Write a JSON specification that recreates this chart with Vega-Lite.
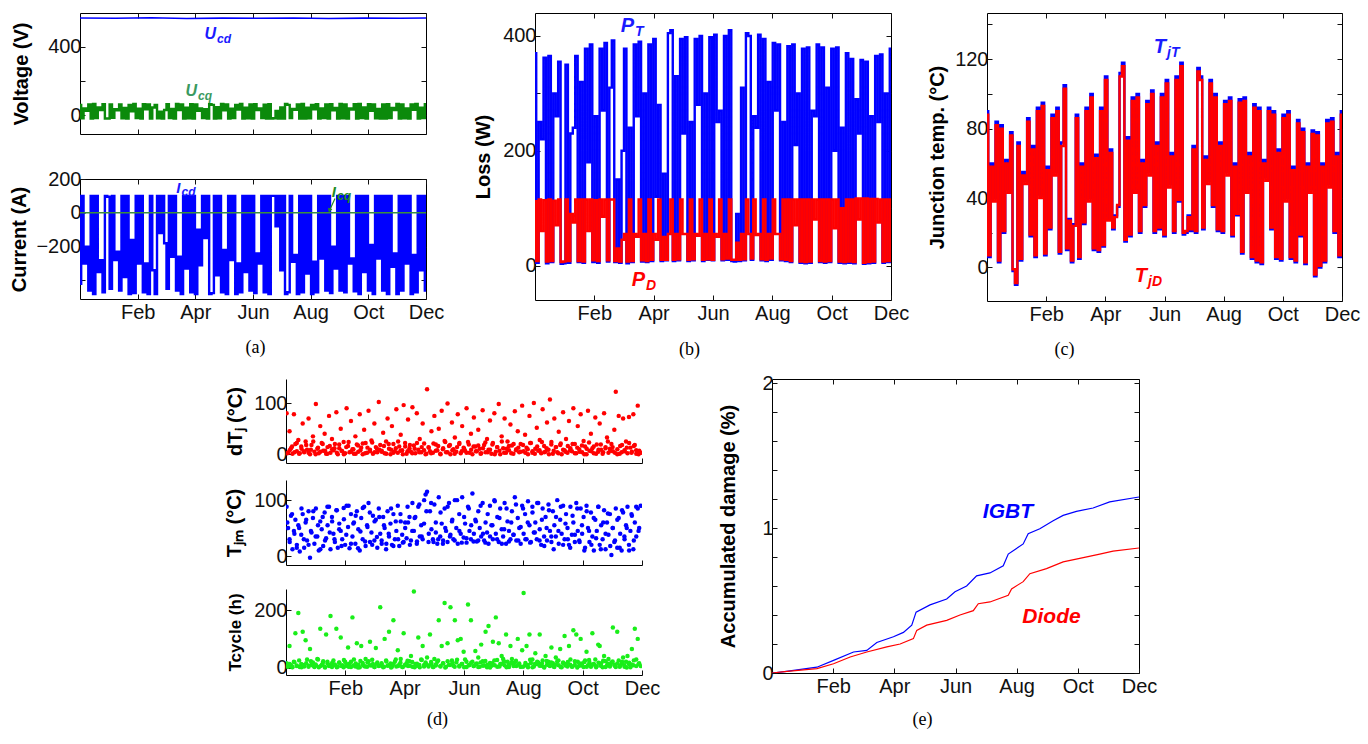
{
"$schema": "https://vega.github.io/schema/vega-lite/v6.json",
"padding": {"left": 8, "top": 12, "right": 5, "bottom": 5},
"background": "white",
"config": {
 "font": "Liberation Sans",
 "view": {"stroke": "#000", "strokeWidth": 1},
 "axis": {"grid": false, "domain": false, "labelFont": "Liberation Sans", "labelFontSize": 20, "labelColor": "#111", "labelPadding": 4, "labelFlush": false, "labelOverlap": false, "tickColor": "#111", "tickSize": -5, "tickWidth": 1, "titleFont": "Liberation Sans", "titleFontSize": 20, "titleFontWeight": "bold", "titleColor": "#000"},
 "axisY": {"titleBaseline": "middle", "titleAngle": 270},
 "axisX": {"labelPadding": 8, "titleFont": "Liberation Serif", "titleFontWeight": "normal", "titleFontSize": 18, "titleBaseline": "middle", "titleAlign": "center"}
},
"datasets": {
 "ts": [
{"h":0,"uq":60,"i":-420,"pt":370,"pd":112,"tt":90,"td":88},
{"h":60,"uq":-18,"i":100,"pt":5,"pd":8,"tt":6,"td":7},
{"h":120,"uq":40,"i":-300,"pt":250,"pd":115,"tt":60,"td":58},
{"h":180,"uq":25,"i":-200,"pt":220,"pd":60,"tt":40,"td":38},
{"h":240,"uq":62,"i":-460,"pt":362,"pd":114,"tt":84,"td":82},
{"h":300,"uq":-20,"i":100,"pt":4,"pd":7,"tt":3,"td":4},
{"h":360,"uq":65,"i":-480,"pt":365,"pd":115,"tt":82,"td":80},
{"h":420,"uq":-17,"i":100,"pt":6,"pd":8,"tt":20,"td":21},
{"h":480,"uq":45,"i":-350,"pt":300,"pd":113,"tt":62,"td":60},
{"h":540,"uq":30,"i":-280,"pt":260,"pd":70,"tt":45,"td":43},
{"h":600,"uq":64,"i":-470,"pt":355,"pd":115,"tt":78,"td":76},
{"h":660,"uq":-19,"i":100,"pt":3,"pd":6,"tt":-2,"td":-1},
{"h":720,"uq":-20,"i":95,"pt":4,"pd":7,"tt":-10,"td":-9},
{"h":780,"uq":63,"i":-450,"pt":350,"pd":115,"tt":72,"td":70},
{"h":840,"uq":-16,"i":100,"pt":5,"pd":8,"tt":4,"td":5},
{"h":900,"uq":35,"i":-280,"pt":230,"pd":90,"tt":55,"td":53},
{"h":960,"uq":28,"i":-230,"pt":240,"pd":75,"tt":50,"td":48},
{"h":1020,"uq":62,"i":-460,"pt":365,"pd":115,"tt":86,"td":84},
{"h":1080,"uq":-18,"i":100,"pt":6,"pd":8,"tt":18,"td":19},
{"h":1140,"uq":42,"i":-380,"pt":320,"pd":115,"tt":70,"td":68},
{"h":1200,"uq":-20,"i":100,"pt":5,"pd":7,"tt":6,"td":7},
{"h":1260,"uq":60,"i":-480,"pt":378,"pd":115,"tt":92,"td":90},
{"h":1320,"uq":22,"i":-160,"pt":180,"pd":60,"tt":42,"td":40},
{"h":1380,"uq":65,"i":-475,"pt":385,"pd":115,"tt":95,"td":93},
{"h":1440,"uq":-17,"i":100,"pt":6,"pd":9,"tt":7,"td":8},
{"h":1500,"uq":38,"i":-300,"pt":260,"pd":114,"tt":58,"td":56},
{"h":1560,"uq":-19,"i":100,"pt":5,"pd":8,"tt":22,"td":23},
{"h":1620,"uq":64,"i":-470,"pt":378,"pd":115,"tt":88,"td":86},
{"h":1680,"uq":35,"i":-300,"pt":270,"pd":85,"tt":55,"td":53},
{"h":1740,"uq":62,"i":-480,"pt":388,"pd":115,"tt":92,"td":90},
{"h":1800,"uq":-20,"i":100,"pt":7,"pd":9,"tt":8,"td":9},
{"h":1860,"uq":45,"i":-340,"pt":310,"pd":115,"tt":72,"td":70},
{"h":1920,"uq":60,"i":-480,"pt":392,"pd":115,"tt":105,"td":103},
{"h":1980,"uq":-18,"i":100,"pt":6,"pd":8,"tt":10,"td":11},
{"h":2040,"uq":20,"i":-120,"pt":150,"pd":30,"tt":28,"td":27},
{"h":2100,"uq":-20,"i":100,"pt":5,"pd":7,"tt":3,"td":4},
{"h":2160,"uq":30,"i":-180,"pt":200,"pd":45,"tt":25,"td":24},
{"h":2220,"uq":64,"i":-450,"pt":378,"pd":55,"tt":88,"td":86},
{"h":2280,"uq":-17,"i":100,"pt":4,"pd":7,"tt":5,"td":6},
{"h":2340,"uq":36,"i":-260,"pt":240,"pd":115,"tt":60,"td":58},
{"h":2400,"uq":-19,"i":100,"pt":6,"pd":8,"tt":25,"td":26},
{"h":2460,"uq":65,"i":-460,"pt":385,"pd":55,"tt":92,"td":90},
{"h":2520,"uq":30,"i":-260,"pt":260,"pd":50,"tt":40,"td":38},
{"h":2580,"uq":63,"i":-480,"pt":390,"pd":115,"tt":100,"td":98},
{"h":2640,"uq":-20,"i":100,"pt":7,"pd":9,"tt":10,"td":11},
{"h":2700,"uq":44,"i":-330,"pt":300,"pd":55,"tt":65,"td":63},
{"h":2760,"uq":-18,"i":100,"pt":6,"pd":8,"tt":9,"td":10},
{"h":2820,"uq":64,"i":-470,"pt":385,"pd":115,"tt":92,"td":90},
{"h":2880,"uq":-20,"i":100,"pt":8,"pd":10,"tt":12,"td":13},
{"h":2940,"uq":62,"i":-480,"pt":395,"pd":55,"tt":110,"td":108},
{"h":3000,"uq":25,"i":-100,"pt":120,"pd":45,"tt":28,"td":27},
{"h":3060,"uq":40,"i":-310,"pt":280,"pd":115,"tt":68,"td":66},
{"h":3120,"uq":-17,"i":100,"pt":8,"pd":10,"tt":22,"td":23},
{"h":3180,"uq":35,"i":-150,"pt":160,"pd":50,"tt":30,"td":29},
{"h":3240,"uq":-19,"i":100,"pt":9,"pd":10,"tt":35,"td":36},
{"h":3300,"uq":64,"i":-480,"pt":405,"pd":55,"tt":112,"td":110},
{"h":3360,"uq":60,"i":-475,"pt":410,"pd":115,"tt":118,"td":116},
{"h":3420,"uq":-20,"i":100,"pt":8,"pd":10,"tt":15,"td":16},
{"h":3480,"uq":46,"i":-370,"pt":330,"pd":55,"tt":75,"td":73},
{"h":3540,"uq":-18,"i":100,"pt":9,"pd":11,"tt":18,"td":19},
{"h":3600,"uq":65,"i":-470,"pt":395,"pd":115,"tt":98,"td":96},
{"h":3660,"uq":28,"i":-220,"pt":230,"pd":55,"tt":45,"td":43},
{"h":3720,"uq":62,"i":-480,"pt":398,"pd":55,"tt":100,"td":98},
{"h":3780,"uq":-20,"i":100,"pt":8,"pd":10,"tt":20,"td":21},
{"h":3840,"uq":38,"i":-280,"pt":250,"pd":115,"tt":62,"td":60},
{"h":3900,"uq":-17,"i":100,"pt":9,"pd":11,"tt":35,"td":36},
{"h":3960,"uq":60,"i":-480,"pt":395,"pd":55,"tt":96,"td":94},
{"h":4020,"uq":33,"i":-300,"pt":280,"pd":52,"tt":55,"td":53},
{"h":4080,"uq":65,"i":-470,"pt":400,"pd":115,"tt":102,"td":100},
{"h":4140,"uq":-19,"i":100,"pt":8,"pd":10,"tt":20,"td":21},
{"h":4200,"uq":43,"i":-350,"pt":300,"pd":55,"tt":72,"td":70},
{"h":4260,"uq":-18,"i":100,"pt":10,"pd":11,"tt":22,"td":23},
{"h":4320,"uq":62,"i":-460,"pt":398,"pd":115,"tt":100,"td":98},
{"h":4380,"uq":-20,"i":100,"pt":9,"pd":10,"tt":18,"td":19},
{"h":4440,"uq":64,"i":-475,"pt":402,"pd":55,"tt":108,"td":106},
{"h":4500,"uq":30,"i":-240,"pt":250,"pd":50,"tt":48,"td":46},
{"h":4560,"uq":40,"i":-300,"pt":270,"pd":115,"tt":66,"td":64},
{"h":4620,"uq":-17,"i":100,"pt":9,"pd":11,"tt":20,"td":21},
{"h":4680,"uq":61,"i":-470,"pt":400,"pd":55,"tt":110,"td":108},
{"h":4740,"uq":-19,"i":100,"pt":10,"pd":12,"tt":38,"td":39},
{"h":4800,"uq":64,"i":-480,"pt":410,"pd":115,"tt":118,"td":116},
{"h":4860,"uq":-20,"i":100,"pt":8,"pd":10,"tt":19,"td":20},
{"h":4920,"uq":-18,"i":100,"pt":7,"pd":10,"tt":20,"td":21},
{"h":4980,"uq":25,"i":-80,"pt":90,"pd":40,"tt":30,"td":29},
{"h":5040,"uq":-19,"i":100,"pt":8,"pd":10,"tt":21,"td":22},
{"h":5100,"uq":45,"i":-340,"pt":310,"pd":55,"tt":70,"td":68},
{"h":5160,"uq":-20,"i":100,"pt":9,"pd":11,"tt":20,"td":21},
{"h":5220,"uq":65,"i":-480,"pt":405,"pd":115,"tt":115,"td":113},
{"h":5280,"uq":60,"i":-470,"pt":400,"pd":55,"tt":110,"td":108},
{"h":5340,"uq":-17,"i":100,"pt":10,"pd":12,"tt":22,"td":23},
{"h":5400,"uq":37,"i":-290,"pt":260,"pd":115,"tt":64,"td":62},
{"h":5460,"uq":32,"i":-250,"pt":240,"pd":53,"tt":50,"td":48},
{"h":5520,"uq":62,"i":-480,"pt":402,"pd":55,"tt":108,"td":106},
{"h":5580,"uq":-19,"i":100,"pt":9,"pd":11,"tt":35,"td":36},
{"h":5640,"uq":65,"i":-470,"pt":395,"pd":115,"tt":100,"td":98},
{"h":5700,"uq":-20,"i":100,"pt":8,"pd":10,"tt":21,"td":22},
{"h":5760,"uq":44,"i":-360,"pt":320,"pd":55,"tt":72,"td":70},
{"h":5820,"uq":-18,"i":100,"pt":10,"pd":12,"tt":20,"td":21},
{"h":5880,"uq":60,"i":-480,"pt":388,"pd":115,"tt":96,"td":94},
{"h":5940,"uq":35,"i":-290,"pt":270,"pd":55,"tt":55,"td":53},
{"h":6000,"uq":64,"i":-470,"pt":385,"pd":55,"tt":98,"td":96},
{"h":6060,"uq":-20,"i":100,"pt":9,"pd":11,"tt":18,"td":19},
{"h":6120,"uq":39,"i":-270,"pt":250,"pd":115,"tt":60,"td":58},
{"h":6180,"uq":-17,"i":100,"pt":8,"pd":10,"tt":30,"td":31},
{"h":6240,"uq":62,"i":-460,"pt":382,"pd":115,"tt":97,"td":95},
{"h":6300,"uq":-19,"i":100,"pt":6,"pd":8,"tt":8,"td":9},
{"h":6360,"uq":64,"i":-475,"pt":385,"pd":115,"tt":98,"td":96},
{"h":6420,"uq":28,"i":-200,"pt":210,"pd":70,"tt":45,"td":43},
{"h":6480,"uq":42,"i":-330,"pt":300,"pd":115,"tt":66,"td":64},
{"h":6540,"uq":-20,"i":100,"pt":5,"pd":7,"tt":5,"td":6},
{"h":6600,"uq":65,"i":-460,"pt":378,"pd":115,"tt":94,"td":92},
{"h":6660,"uq":-18,"i":100,"pt":4,"pd":6,"tt":3,"td":4},
{"h":6720,"uq":63,"i":-470,"pt":380,"pd":115,"tt":92,"td":90},
{"h":6780,"uq":-20,"i":100,"pt":5,"pd":7,"tt":2,"td":3},
{"h":6840,"uq":40,"i":-300,"pt":270,"pd":115,"tt":62,"td":60},
{"h":6900,"uq":33,"i":-270,"pt":260,"pd":80,"tt":52,"td":50},
{"h":6960,"uq":64,"i":-465,"pt":385,"pd":115,"tt":92,"td":90},
{"h":7020,"uq":-19,"i":100,"pt":6,"pd":8,"tt":22,"td":23},
{"h":7080,"uq":65,"i":-480,"pt":380,"pd":115,"tt":90,"td":88},
{"h":7140,"uq":-17,"i":100,"pt":5,"pd":7,"tt":5,"td":6},
{"h":7200,"uq":45,"i":-350,"pt":310,"pd":115,"tt":68,"td":66},
{"h":7260,"uq":-20,"i":100,"pt":6,"pd":8,"tt":4,"td":5},
{"h":7320,"uq":64,"i":-460,"pt":378,"pd":115,"tt":88,"td":86},
{"h":7380,"uq":26,"i":-190,"pt":200,"pd":65,"tt":40,"td":38},
{"h":7440,"uq":63,"i":-480,"pt":380,"pd":115,"tt":90,"td":88},
{"h":7500,"uq":-18,"i":100,"pt":5,"pd":7,"tt":5,"td":6},
{"h":7560,"uq":36,"i":-270,"pt":240,"pd":100,"tt":58,"td":56},
{"h":7620,"uq":-20,"i":100,"pt":4,"pd":6,"tt":3,"td":4},
{"h":7680,"uq":62,"i":-460,"pt":370,"pd":115,"tt":85,"td":83},
{"h":7740,"uq":-19,"i":100,"pt":5,"pd":7,"tt":18,"td":19},
{"h":7800,"uq":64,"i":-480,"pt":360,"pd":115,"tt":80,"td":78},
{"h":7860,"uq":-17,"i":100,"pt":4,"pd":6,"tt":2,"td":3},
{"h":7920,"uq":42,"i":-320,"pt":290,"pd":117,"tt":60,"td":58},
{"h":7980,"uq":30,"i":-240,"pt":230,"pd":80,"tt":45,"td":43},
{"h":8040,"uq":65,"i":-480,"pt":358,"pd":117,"tt":79,"td":77},
{"h":8100,"uq":-20,"i":100,"pt":3,"pd":5,"tt":-5,"td":-4},
{"h":8160,"uq":63,"i":-460,"pt":355,"pd":117,"tt":78,"td":76},
{"h":8220,"uq":-18,"i":100,"pt":4,"pd":6,"tt":0,"td":1},
{"h":8280,"uq":40,"i":-300,"pt":260,"pd":116,"tt":60,"td":58},
{"h":8340,"uq":-20,"i":100,"pt":5,"pd":7,"tt":3,"td":4},
{"h":8400,"uq":62,"i":-480,"pt":365,"pd":116,"tt":85,"td":83},
{"h":8460,"uq":32,"i":-250,"pt":250,"pd":75,"tt":48,"td":46},
{"h":8520,"uq":65,"i":-470,"pt":368,"pd":115,"tt":86,"td":84},
{"h":8580,"uq":-19,"i":100,"pt":5,"pd":7,"tt":20,"td":21},
{"h":8640,"uq":44,"i":-340,"pt":300,"pd":115,"tt":66,"td":64},
{"h":8700,"uq":-17,"i":100,"pt":6,"pd":8,"tt":6,"td":7},
{"h":8760,"uq":64,"i":-460,"pt":378,"pd":115,"tt":90,"td":88}
 ],
 "cyc": [
{"h":15,"d":80,"m":88,"c":15},{"h":51,"d":3,"m":50,"c":3},{"h":87,"d":45,"m":30,"c":75},{"h":123,"d":12,"m":72,"c":8},{"h":159,"d":1,"m":12,"c":1},
{"h":195,"d":78,"m":45,"c":20},{"h":231,"d":20,"m":65,"c":120},{"h":267,"d":6,"m":20,"c":5},{"h":303,"d":28,"m":55,"c":190},{"h":339,"d":2,"m":8,"c":2},
{"h":375,"d":15,"m":38,"c":12},{"h":411,"d":60,"m":75,"c":125},{"h":447,"d":4,"m":15,"c":4},{"h":483,"d":25,"m":60,"c":95},{"h":519,"d":9,"m":28,"c":28},
{"h":555,"d":70,"m":80,"c":6},{"h":591,"d":0,"m":-3,"c":65},{"h":627,"d":18,"m":42,"c":10},{"h":663,"d":35,"m":68,"c":18},{"h":699,"d":5,"m":22,"c":2},
{"h":735,"d":98,"m":85,"c":7},{"h":771,"d":11,"m":35,"c":30},{"h":807,"d":2,"m":10,"c":1},{"h":843,"d":55,"m":62,"c":135},{"h":879,"d":22,"m":48,"c":9},
{"h":915,"d":7,"m":18,"c":22},{"h":951,"d":40,"m":78,"c":3},{"h":987,"d":1,"m":32,"c":115},{"h":1023,"d":14,"m":55,"c":14},{"h":1059,"d":75,"m":88,"c":5},
{"h":1095,"d":3,"m":12,"c":180},{"h":1131,"d":30,"m":70,"c":2},{"h":1167,"d":8,"m":40,"c":25},{"h":1203,"d":20,"m":25,"c":11},{"h":1239,"d":82,"m":82,"c":135},
{"h":1275,"d":0,"m":15,"c":4},{"h":1311,"d":12,"m":58,"c":18},{"h":1347,"d":50,"m":45,"c":105},{"h":1383,"d":6,"m":30,"c":8},{"h":1419,"d":24,"m":86,"c":1},
{"h":1455,"d":2,"m":20,"c":20},{"h":1491,"d":90,"m":90,"c":6},{"h":1527,"d":16,"m":52,"c":70},{"h":1563,"d":4,"m":14,"c":13},{"h":1599,"d":65,"m":75,"c":2},
{"h":1635,"d":10,"m":35,"c":175},{"h":1671,"d":1,"m":60,"c":28},{"h":1707,"d":35,"m":22,"c":4},{"h":1743,"d":19,"m":80,"c":85},{"h":1779,"d":5,"m":48,"c":10},
{"h":1815,"d":78,"m":10,"c":1},{"h":1851,"d":13,"m":68,"c":75},{"h":1887,"d":0,"m":30,"c":16},{"h":1923,"d":48,"m":88,"c":5},{"h":1959,"d":22,"m":18,"c":30},
{"h":1995,"d":3,"m":55,"c":3},{"h":2031,"d":85,"m":95,"c":22},{"h":2067,"d":9,"m":25,"c":90},{"h":2103,"d":27,"m":42,"c":7},{"h":2139,"d":1,"m":72,"c":12},
{"h":2175,"d":60,"m":28,"c":2},{"h":2211,"d":14,"m":65,"c":68},{"h":2247,"d":4,"m":15,"c":18},{"h":2283,"d":102,"m":85,"c":5},{"h":2319,"d":18,"m":40,"c":210},
{"h":2355,"d":7,"m":22,"c":9},{"h":2391,"d":42,"m":70,"c":1},{"h":2427,"d":2,"m":50,"c":100},{"h":2463,"d":25,"m":12,"c":25},{"h":2499,"d":70,"m":80,"c":6},
{"h":2535,"d":11,"m":35,"c":125},{"h":2571,"d":0,"m":58,"c":14},{"h":2607,"d":55,"m":20,"c":3},{"h":2643,"d":20,"m":75,"c":165},{"h":2679,"d":6,"m":30,"c":20},
{"h":2715,"d":88,"m":45,"c":4},{"h":2751,"d":3,"m":90,"c":60},{"h":2787,"d":15,"m":18,"c":11},{"h":2823,"d":38,"m":62,"c":30},{"h":2859,"d":8,"m":38,"c":2},
{"h":2895,"d":96,"m":25,"c":120},{"h":2931,"d":22,"m":60,"c":8},{"h":2967,"d":1,"m":32,"c":15},{"h":3003,"d":68,"m":60,"c":5},{"h":3039,"d":12,"m":70,"c":22},
{"h":3075,"d":5,"m":28,"c":40},{"h":3111,"d":92,"m":95,"c":3},{"h":3147,"d":17,"m":45,"c":265},{"h":3183,"d":2,"m":70,"c":12},{"h":3219,"d":80,"m":22,"c":6},
{"h":3255,"d":9,"m":88,"c":105},{"h":3291,"d":30,"m":35,"c":1},{"h":3327,"d":4,"m":55,"c":28},{"h":3363,"d":60,"m":30,"c":75},{"h":3399,"d":21,"m":100,"c":9},
{"h":3435,"d":0,"m":110,"c":18},{"h":3471,"d":127,"m":115,"c":35},{"h":3507,"d":14,"m":25,"c":4},{"h":3543,"d":6,"m":80,"c":115},{"h":3579,"d":45,"m":48,"c":13},
{"h":3615,"d":3,"m":30,"c":2},{"h":3651,"d":75,"m":92,"c":30},{"h":3687,"d":19,"m":42,"c":7},{"h":3723,"d":8,"m":22,"c":20},{"h":3759,"d":50,"m":105,"c":165},
{"h":3795,"d":1,"m":35,"c":5},{"h":3831,"d":85,"m":58,"c":75},{"h":3867,"d":12,"m":28,"c":15},{"h":3903,"d":26,"m":85,"c":225},{"h":3939,"d":4,"m":45,"c":3},
{"h":3975,"d":99,"m":25,"c":85},{"h":4011,"d":16,"m":95,"c":10},{"h":4047,"d":0,"m":38,"c":210},{"h":4083,"d":62,"m":62,"c":25},{"h":4119,"d":10,"m":30,"c":6},
{"h":4155,"d":33,"m":100,"c":165},{"h":4191,"d":5,"m":50,"c":18},{"h":4227,"d":78,"m":22,"c":95},{"h":4263,"d":20,"m":75,"c":4},{"h":4299,"d":2,"m":40,"c":100},
{"h":4335,"d":55,"m":105,"c":12},{"h":4371,"d":13,"m":33,"c":55},{"h":4407,"d":7,"m":58,"c":28},{"h":4443,"d":90,"m":24,"c":2},{"h":4479,"d":24,"m":88,"c":220},
{"h":4515,"d":3,"m":45,"c":9},{"h":4551,"d":40,"m":30,"c":165},{"h":4587,"d":0,"m":112,"c":20},{"h":4623,"d":72,"m":40,"c":5},{"h":4659,"d":15,"m":65,"c":58},
{"h":4695,"d":6,"m":26,"c":14},{"h":4731,"d":48,"m":80,"c":35},{"h":4767,"d":11,"m":50,"c":3},{"h":4803,"d":2,"m":35,"c":80},{"h":4839,"d":86,"m":95,"c":22},
{"h":4875,"d":18,"m":28,"c":8},{"h":4911,"d":4,"m":60,"c":125},{"h":4947,"d":30,"m":42,"c":1},{"h":4983,"d":9,"m":22,"c":145},{"h":5019,"d":66,"m":90,"c":16},
{"h":5055,"d":1,"m":55,"c":6},{"h":5091,"d":22,"m":30,"c":90},{"h":5127,"d":80,"m":100,"c":25},{"h":5163,"d":5,"m":40,"c":175},{"h":5199,"d":14,"m":70,"c":3},
{"h":5235,"d":98,"m":25,"c":85},{"h":5271,"d":0,"m":85,"c":12},{"h":5307,"d":35,"m":48,"c":40},{"h":5343,"d":12,"m":35,"c":30},{"h":5379,"d":70,"m":95,"c":8},
{"h":5415,"d":3,"m":22,"c":115},{"h":5451,"d":25,"m":62,"c":20},{"h":5487,"d":8,"m":45,"c":2},{"h":5523,"d":58,"m":30,"c":75},{"h":5559,"d":17,"m":80,"c":30},
{"h":5595,"d":1,"m":38,"c":10},{"h":5631,"d":84,"m":105,"c":18},{"h":5667,"d":10,"m":28,"c":5},{"h":5703,"d":45,"m":68,"c":100},{"h":5739,"d":4,"m":50,"c":14},
{"h":5775,"d":20,"m":22,"c":3},{"h":5811,"d":95,"m":90,"c":60},{"h":5847,"d":6,"m":40,"c":260},{"h":5883,"d":38,"m":75,"c":8},{"h":5919,"d":13,"m":30,"c":75},
{"h":5955,"d":0,"m":98,"c":1},{"h":5991,"d":75,"m":55,"c":115},{"h":6027,"d":22,"m":25,"c":16},{"h":6063,"d":3,"m":88,"c":28},{"h":6099,"d":100,"m":42,"c":4},
{"h":6135,"d":11,"m":60,"c":50},{"h":6171,"d":52,"m":30,"c":12},{"h":6207,"d":7,"m":95,"c":18},{"h":6243,"d":28,"m":48,"c":115},{"h":6279,"d":2,"m":20,"c":6},
{"h":6315,"d":88,"m":85,"c":25},{"h":6351,"d":16,"m":35,"c":2},{"h":6387,"d":5,"m":70,"c":40},{"h":6423,"d":62,"m":28,"c":10},{"h":6459,"d":9,"m":92,"c":20},
{"h":6495,"d":107,"m":45,"c":5},{"h":6531,"d":24,"m":25,"c":70},{"h":6567,"d":1,"m":80,"c":15},{"h":6603,"d":70,"m":55,"c":2},{"h":6639,"d":14,"m":35,"c":35},
{"h":6675,"d":4,"m":100,"c":22},{"h":6711,"d":44,"m":22,"c":8},{"h":6747,"d":18,"m":65,"c":65},{"h":6783,"d":0,"m":40,"c":1},{"h":6819,"d":82,"m":90,"c":18},
{"h":6855,"d":8,"m":30,"c":110},{"h":6891,"d":30,"m":75,"c":12},{"h":6927,"d":3,"m":50,"c":4},{"h":6963,"d":65,"m":20,"c":75},{"h":6999,"d":12,"m":88,"c":28},
{"h":7035,"d":6,"m":38,"c":3},{"h":7071,"d":90,"m":60,"c":130},{"h":7107,"d":20,"m":25,"c":9},{"h":7143,"d":2,"m":95,"c":115},{"h":7179,"d":55,"m":45,"c":20},
{"h":7215,"d":10,"m":28,"c":6},{"h":7251,"d":78,"m":85,"c":100},{"h":7287,"d":4,"m":40,"c":14},{"h":7323,"d":26,"m":70,"c":2},{"h":7359,"d":15,"m":15,"c":25},
{"h":7395,"d":0,"m":90,"c":55},{"h":7431,"d":85,"m":50,"c":8},{"h":7467,"d":7,"m":25,"c":18},{"h":7503,"d":40,"m":78,"c":3},{"h":7539,"d":12,"m":35,"c":120},
{"h":7575,"d":2,"m":10,"c":11},{"h":7611,"d":72,"m":65,"c":28},{"h":7647,"d":19,"m":45,"c":5},{"h":7683,"d":5,"m":88,"c":80},{"h":7719,"d":60,"m":20,"c":75},
{"h":7755,"d":9,"m":55,"c":15},{"h":7791,"d":1,"m":30,"c":1},{"h":7827,"d":80,"m":82,"c":40},{"h":7863,"d":14,"m":12,"c":22},{"h":7899,"d":33,"m":60,"c":7},
{"h":7935,"d":3,"m":38,"c":30},{"h":7971,"d":11,"m":75,"c":4},{"h":8007,"d":20,"m":2,"c":18},{"h":8043,"d":6,"m":50,"c":140},{"h":8079,"d":48,"m":25,"c":10},
{"h":8115,"d":122,"m":85,"c":2},{"h":8151,"d":0,"m":15,"c":125},{"h":8187,"d":75,"m":68,"c":25},{"h":8223,"d":16,"m":40,"c":6},{"h":8259,"d":4,"m":10,"c":15},
{"h":8295,"d":70,"m":78,"c":35},{"h":8331,"d":8,"m":30,"c":3},{"h":8367,"d":25,"m":55,"c":20},{"h":8403,"d":2,"m":88,"c":40},{"h":8439,"d":73,"m":20,"c":12},
{"h":8475,"d":13,"m":45,"c":1},{"h":8511,"d":5,"m":72,"c":65},{"h":8547,"d":78,"m":12,"c":8},{"h":8583,"d":18,"m":60,"c":135},{"h":8619,"d":1,"m":35,"c":28},
{"h":8655,"d":95,"m":85,"c":100},{"h":8691,"d":7,"m":50,"c":15},{"h":8727,"d":3,"m":90,"c":5},
{"h":33,"d":2,"m":60,"c":4},{"h":91,"d":8,"m":25,"c":12},{"h":149,"d":15,"m":75,"c":2},{"h":207,"d":4,"m":40,"c":18},{"h":265,"d":22,"m":15,"c":7},
{"h":323,"d":1,"m":50,"c":25},{"h":381,"d":11,"m":85,"c":1},{"h":439,"d":6,"m":30,"c":9},{"h":497,"d":18,"m":65,"c":15},{"h":555,"d":3,"m":20,"c":3},
{"h":613,"d":9,"m":45,"c":22},{"h":671,"d":25,"m":80,"c":6},{"h":729,"d":0,"m":35,"c":11},{"h":787,"d":13,"m":55,"c":28},{"h":845,"d":5,"m":12,"c":5},
{"h":903,"d":20,"m":70,"c":14},{"h":961,"d":7,"m":28,"c":0},{"h":1019,"d":1,"m":88,"c":20},{"h":1077,"d":16,"m":42,"c":8},{"h":1135,"d":10,"m":62,"c":16},
{"h":1193,"d":12,"m":30,"c":9},{"h":1251,"d":3,"m":82,"c":1},{"h":1309,"d":19,"m":48,"c":17},{"h":1367,"d":7,"m":18,"c":5},{"h":1425,"d":0,"m":66,"c":26},
{"h":1483,"d":14,"m":38,"c":12},{"h":1541,"d":24,"m":90,"c":3},{"h":1599,"d":5,"m":22,"c":20},{"h":1657,"d":10,"m":58,"c":7},{"h":1715,"d":1,"m":72,"c":14},
{"h":1773,"d":17,"m":14,"c":0},{"h":1831,"d":8,"m":44,"c":23},{"h":1889,"d":21,"m":86,"c":10},{"h":1947,"d":2,"m":26,"c":4},{"h":2005,"d":13,"m":52,"c":18},
{"h":2063,"d":6,"m":78,"c":8},{"h":2121,"d":23,"m":20,"c":27},{"h":2179,"d":4,"m":62,"c":2},{"h":2237,"d":11,"m":34,"c":13},{"h":2295,"d":9,"m":70,"c":6},
{"h":2353,"d":5,"m":28,"c":15},{"h":2411,"d":16,"m":55,"c":3},{"h":2469,"d":1,"m":22,"c":21},{"h":2527,"d":20,"m":40,"c":8},{"h":2585,"d":9,"m":85,"c":0},
{"h":2643,"d":3,"m":18,"c":12},{"h":2701,"d":12,"m":62,"c":28},{"h":2759,"d":25,"m":30,"c":5},{"h":2817,"d":7,"m":75,"c":17},{"h":2875,"d":0,"m":24,"c":2},
{"h":2933,"d":15,"m":50,"c":10},{"h":2991,"d":6,"m":88,"c":24},{"h":3049,"d":18,"m":20,"c":6},{"h":3107,"d":2,"m":45,"c":19},{"h":3165,"d":11,"m":68,"c":1},
{"h":3223,"d":22,"m":26,"c":13},{"h":3281,"d":4,"m":92,"c":9},{"h":3339,"d":14,"m":35,"c":26},{"h":3397,"d":8,"m":58,"c":4},{"h":3455,"d":1,"m":80,"c":11},
{"h":3513,"d":13,"m":40,"c":7},{"h":3571,"d":2,"m":95,"c":19},{"h":3629,"d":21,"m":25,"c":2},{"h":3687,"d":7,"m":60,"c":11},{"h":3745,"d":16,"m":30,"c":25},
{"h":3803,"d":0,"m":78,"c":4},{"h":3861,"d":10,"m":22,"c":14},{"h":3919,"d":24,"m":50,"c":0},{"h":3977,"d":4,"m":88,"c":22},{"h":4035,"d":18,"m":35,"c":9},
{"h":4093,"d":8,"m":65,"c":16},{"h":4151,"d":1,"m":28,"c":3},{"h":4209,"d":14,"m":100,"c":27},{"h":4267,"d":22,"m":45,"c":6},{"h":4325,"d":6,"m":24,"c":12},
{"h":4383,"d":11,"m":70,"c":1},{"h":4441,"d":3,"m":32,"c":20},{"h":4499,"d":19,"m":85,"c":8},{"h":4557,"d":9,"m":55,"c":17},{"h":4615,"d":15,"m":26,"c":5},
{"h":4673,"d":6,"m":62,"c":12},{"h":4731,"d":17,"m":28,"c":2},{"h":4789,"d":1,"m":90,"c":18},{"h":4847,"d":12,"m":40,"c":6},{"h":4905,"d":23,"m":24,"c":23},
{"h":4963,"d":4,"m":75,"c":10},{"h":5021,"d":9,"m":35,"c":0},{"h":5079,"d":19,"m":55,"c":15},{"h":5137,"d":0,"m":98,"c":8},{"h":5195,"d":14,"m":30,"c":26},
{"h":5253,"d":7,"m":68,"c":4},{"h":5311,"d":25,"m":22,"c":13},{"h":5369,"d":3,"m":48,"c":21},{"h":5427,"d":11,"m":85,"c":1},{"h":5485,"d":16,"m":26,"c":9},
{"h":5543,"d":2,"m":60,"c":17},{"h":5601,"d":20,"m":38,"c":5},{"h":5659,"d":8,"m":92,"c":24},{"h":5717,"d":13,"m":28,"c":11},{"h":5775,"d":5,"m":52,"c":3},
{"h":5833,"d":18,"m":85,"c":3},{"h":5891,"d":3,"m":30,"c":16},{"h":5949,"d":10,"m":60,"c":9},{"h":6007,"d":22,"m":24,"c":27},{"h":6065,"d":6,"m":78,"c":1},
{"h":6123,"d":1,"m":42,"c":12},{"h":6181,"d":15,"m":95,"c":20},{"h":6239,"d":8,"m":28,"c":6},{"h":6297,"d":24,"m":65,"c":14},{"h":6355,"d":4,"m":18,"c":0},
{"h":6413,"d":12,"m":50,"c":23},{"h":6471,"d":0,"m":82,"c":8},{"h":6529,"d":19,"m":35,"c":18},{"h":6587,"d":7,"m":12,"c":4},{"h":6645,"d":14,"m":70,"c":11},
{"h":6703,"d":2,"m":45,"c":25},{"h":6761,"d":21,"m":88,"c":2},{"h":6819,"d":9,"m":20,"c":15},{"h":6877,"d":5,"m":58,"c":7},{"h":6935,"d":16,"m":30,"c":19},
{"h":6993,"d":8,"m":15,"c":10},{"h":7051,"d":20,"m":72,"c":4},{"h":7109,"d":2,"m":38,"c":22},{"h":7167,"d":13,"m":85,"c":0},{"h":7225,"d":5,"m":25,"c":14},
{"h":7283,"d":17,"m":55,"c":7},{"h":7341,"d":0,"m":10,"c":19},{"h":7399,"d":11,"m":80,"c":3},{"h":7457,"d":23,"m":45,"c":26},{"h":7515,"d":6,"m":20,"c":9},
{"h":7573,"d":15,"m":68,"c":12},{"h":7631,"d":1,"m":32,"c":1},{"h":7689,"d":9,"m":88,"c":17},{"h":7747,"d":19,"m":12,"c":6},{"h":7805,"d":4,"m":60,"c":24},
{"h":7863,"d":12,"m":40,"c":2},{"h":7921,"d":25,"m":76,"c":13},{"h":7979,"d":7,"m":18,"c":8},{"h":8037,"d":14,"m":50,"c":21},{"h":8095,"d":3,"m":28,"c":5},
{"h":8153,"d":10,"m":65,"c":14},{"h":8211,"d":1,"m":15,"c":3},{"h":8269,"d":18,"m":82,"c":20},{"h":8327,"d":6,"m":35,"c":8},{"h":8385,"d":13,"m":50,"c":0},
{"h":8443,"d":22,"m":10,"c":17},{"h":8501,"d":3,"m":75,"c":11},{"h":8559,"d":16,"m":28,"c":25},{"h":8617,"d":8,"m":88,"c":5},{"h":8675,"d":0,"m":45,"c":12}
 ],
 "dmg": [
{"k":"IGBT","h":0,"v":0},{"k":"IGBT","h":300,"v":0.01},{"k":"IGBT","h":1072,"v":0.04},{"k":"IGBT","h":1469,"v":0.087},{"k":"IGBT","h":1946,"v":0.145},{"k":"IGBT","h":2263,"v":0.156},{"k":"IGBT","h":2502,"v":0.21},{"k":"IGBT","h":2899,"v":0.25},{"k":"IGBT","h":3137,"v":0.28},{"k":"IGBT","h":3336,"v":0.33},{"k":"IGBT","h":3439,"v":0.42},{"k":"IGBT","h":3772,"v":0.47},{"k":"IGBT","h":4170,"v":0.51},{"k":"IGBT","h":4368,"v":0.56},{"k":"IGBT","h":4646,"v":0.6},{"k":"IGBT","h":4884,"v":0.67},{"k":"IGBT","h":5202,"v":0.69},{"k":"IGBT","h":5520,"v":0.74},{"k":"IGBT","h":5639,"v":0.82},{"k":"IGBT","h":5996,"v":0.89},{"k":"IGBT","h":6115,"v":0.96},{"k":"IGBT","h":6393,"v":0.995},{"k":"IGBT","h":6711,"v":1.05},{"k":"IGBT","h":6949,"v":1.087},{"k":"IGBT","h":7267,"v":1.115},{"k":"IGBT","h":7664,"v":1.138},{"k":"IGBT","h":8061,"v":1.18},{"k":"IGBT","h":8760,"v":1.214},
{"k":"Diode","h":0,"v":0},{"k":"Diode","h":300,"v":0.01},{"k":"Diode","h":1072,"v":0.03},{"k":"Diode","h":1469,"v":0.064},{"k":"Diode","h":1866,"v":0.11},{"k":"Diode","h":2263,"v":0.145},{"k":"Diode","h":2740,"v":0.18},{"k":"Diode","h":3058,"v":0.2},{"k":"Diode","h":3375,"v":0.237},{"k":"Diode","h":3455,"v":0.294},{"k":"Diode","h":3693,"v":0.33},{"k":"Diode","h":4170,"v":0.363},{"k":"Diode","h":4487,"v":0.4},{"k":"Diode","h":4805,"v":0.43},{"k":"Diode","h":4924,"v":0.478},{"k":"Diode","h":5202,"v":0.49},{"k":"Diode","h":5639,"v":0.536},{"k":"Diode","h":5718,"v":0.58},{"k":"Diode","h":5996,"v":0.63},{"k":"Diode","h":6155,"v":0.685},{"k":"Diode","h":6552,"v":0.72},{"k":"Diode","h":6949,"v":0.766},{"k":"Diode","h":7346,"v":0.79},{"k":"Diode","h":7823,"v":0.82},{"k":"Diode","h":8141,"v":0.84},{"k":"Diode","h":8760,"v":0.862}
 ],
 "ann": [
{"p":"a1","k":"Ucd","x":3443,"y":474,"t":"U","s":"cd"},
{"p":"a1","k":"Ucq","x":2962,"y":142,"t":"U","s":"cq"},
{"p":"a2","k":"Icd","x":2544,"y":144,"t":"I","s":"cd"},
{"p":"a2","k":"Icq","x":6481,"y":126,"t":"I","s":"cq"},
{"p":"b","k":"PT","x":2436,"y":418,"t":"P","s":"T"},
{"p":"b","k":"PD","x":2707,"y":-26,"t":"P","s":"D"},
{"p":"c","k":"TjT","x":4417,"y":127,"t":"T","s":"jT"},
{"p":"c","k":"TjD","x":3948,"y":-5,"t":"T","s":"jD"},
{"p":"e","k":"IGBT","x":5631,"y":1.113,"t":"IGBT","s":""},
{"p":"e","k":"Diode","x":6672,"y":0.386,"t":"Diode","s":""}
 ]
},
"spacing": 13,
"vconcat": [
 {"spacing": 27, "hconcat": [
  {"spacing": 33, "vconcat": [
   {"width": 346, "height": 121,
    "resolve": {"axis": {"x": "independent", "y": "independent"}},
    "layer": [
     {"data": {"name": "ts"}, "mark": {"type": "line", "interpolate": "step", "color": "#0b8a0b", "strokeWidth": 2.4, "clip": true},
      "encoding": {
       "x": {"field": "h", "type": "quantitative", "scale": {"domain": [0, 8760], "nice": false, "zero": false}, "axis": {"values": [1460,2920,4380,5840,7300,8760], "labels": false, "title": null}},
       "y": {"field": "uq", "type": "quantitative", "scale": {"domain": [-110, 597], "nice": false, "zero": false}, "axis": {"values": [0,200,400], "labelExpr": "datum.value==200?'':datum.label", "title": "Voltage (V)", "titleX": -59}}}},
     {"data": {"values": [{"h":0,"v":568},{"h":900,"v":566},{"h":1800,"v":569},{"h":2700,"v":565},{"h":3600,"v":567},{"h":4500,"v":566},{"h":5400,"v":568},{"h":6300,"v":565},{"h":7200,"v":567},{"h":8100,"v":566},{"h":8760,"v":568}]},
      "mark": {"type": "line", "color": "#0000ff", "strokeWidth": 1.6, "clip": true},
      "encoding": {"x": {"field": "h", "type": "quantitative", "axis": null}, "y": {"field": "v", "type": "quantitative", "axis": null}}},
     {"data": {"name": "ann"}, "transform": [{"filter": "datum.p=='a1'"}],
      "mark": {"type": "text", "align": "right", "baseline": "middle", "fontSize": 16, "fontWeight": "bold", "fontStyle": "italic"},
      "encoding": {"x": {"field": "x", "type": "quantitative", "axis": null}, "y": {"field": "y", "type": "quantitative", "axis": null}, "text": {"field": "t"},
       "color": {"field": "k", "type": "nominal", "legend": null, "scale": {"domain": ["Ucd","Ucq","Icd","Icq","PT","PD","TjT","TjD","IGBT","Diode"], "range": ["#1a1aff","#3a9a60","#1a1aff","#228b22","#1a1aff","#ff0000","#1a1aff","#ff0000","#0000ff","#ff0000"]}}}},
     {"data": {"name": "ann"}, "transform": [{"filter": "datum.p=='a1'"}],
      "mark": {"type": "text", "align": "left", "baseline": "middle", "fontSize": 12, "fontWeight": "bold", "fontStyle": "italic", "dx": 1, "dy": 5},
      "encoding": {"x": {"field": "x", "type": "quantitative", "axis": null}, "y": {"field": "y", "type": "quantitative", "axis": null}, "text": {"field": "s"},
       "color": {"field": "k", "type": "nominal", "legend": null, "scale": {"domain": ["Ucd","Ucq","Icd","Icq","PT","PD","TjT","TjD","IGBT","Diode"], "range": ["#1a1aff","#3a9a60","#1a1aff","#228b22","#1a1aff","#ff0000","#1a1aff","#ff0000","#0000ff","#ff0000"]}}}},
     {"data": {"name": "ts"}, "mark": {"type": "point", "opacity": 0},
      "encoding": {
       "x": {"field": "h", "type": "quantitative", "axis": {"orient": "top", "values": [1460,2920,4380,5840,7300,8760], "labels": false, "title": null}},
       "y": {"field": "uq", "type": "quantitative", "axis": {"orient": "right", "values": [0,200,400], "labels": false, "title": null}}}}
    ]},
   {"width": 346, "height": 120,
    "resolve": {"axis": {"x": "independent", "y": "independent"}},
    "layer": [
     {"data": {"name": "ts"}, "mark": {"type": "line", "interpolate": "step", "color": "#0000ff", "strokeWidth": 2.4, "clip": true},
      "encoding": {
       "x": {"field": "h", "type": "quantitative", "scale": {"domain": [0, 8760], "nice": false, "zero": false}, "axis": {"values": [1460,2920,4380,5840,7300,8760], "labelExpr": "datum.value==1460?'Feb':datum.value==2920?'Apr':datum.value==4380?'Jun':datum.value==5840?'Aug':datum.value==7300?'Oct':'Dec'", "title": "(a)", "titleX": 175, "titleY": 48}},
       "y": {"field": "i", "type": "quantitative", "scale": {"domain": [-510, 200], "nice": false, "zero": false}, "axis": {"values": [-400,-200,0,200], "labelExpr": "datum.value==-400?'':datum.label", "title": "Current (A)", "titleX": -61}}}},
     {"data": {"values": [{"h":0,"v":0},{"h":8760,"v":0}]},
      "mark": {"type": "line", "color": "#3c8f3c", "strokeWidth": 1.6, "clip": true},
      "encoding": {"x": {"field": "h", "type": "quantitative", "axis": null}, "y": {"field": "v", "type": "quantitative", "axis": null}}},
     {"data": {"values": [{"x":6456,"y":85,"x2":6317,"y2":14}]},
      "mark": {"type": "rule", "color": "#228b22", "strokeWidth": 1.2},
      "encoding": {"x": {"field": "x", "type": "quantitative", "axis": null}, "y": {"field": "y", "type": "quantitative", "axis": null}, "x2": {"field": "x2"}, "y2": {"field": "y2"}}},
     {"data": {"values": [{"x":6317,"y":14}]},
      "mark": {"type": "point", "shape": "triangle-down", "filled": true, "size": 22, "angle": 20, "color": "#228b22", "opacity": 1},
      "encoding": {"x": {"field": "x", "type": "quantitative", "axis": null}, "y": {"field": "y", "type": "quantitative", "axis": null}}},
     {"data": {"name": "ann"}, "transform": [{"filter": "datum.p=='a2'"}],
      "mark": {"type": "text", "align": "right", "baseline": "middle", "fontSize": 15, "fontWeight": "bold", "fontStyle": "italic"},
      "encoding": {"x": {"field": "x", "type": "quantitative", "axis": null}, "y": {"field": "y", "type": "quantitative", "axis": null}, "text": {"field": "t"},
       "color": {"field": "k", "type": "nominal", "legend": null, "scale": {"domain": ["Ucd","Ucq","Icd","Icq","PT","PD","TjT","TjD","IGBT","Diode"], "range": ["#1a1aff","#3a9a60","#1a1aff","#228b22","#1a1aff","#ff0000","#1a1aff","#ff0000","#0000ff","#ff0000"]}}}},
     {"data": {"name": "ann"}, "transform": [{"filter": "datum.p=='a2'"}],
      "mark": {"type": "text", "align": "left", "baseline": "middle", "fontSize": 12, "fontWeight": "bold", "fontStyle": "italic", "dx": 1, "dy": 4},
      "encoding": {"x": {"field": "x", "type": "quantitative", "axis": null}, "y": {"field": "y", "type": "quantitative", "axis": null}, "text": {"field": "s"},
       "color": {"field": "k", "type": "nominal", "legend": null, "scale": {"domain": ["Ucd","Ucq","Icd","Icq","PT","PD","TjT","TjD","IGBT","Diode"], "range": ["#1a1aff","#3a9a60","#1a1aff","#228b22","#1a1aff","#ff0000","#1a1aff","#ff0000","#0000ff","#ff0000"]}}}},
     {"data": {"name": "ts"}, "mark": {"type": "point", "opacity": 0},
      "encoding": {
       "x": {"field": "h", "type": "quantitative", "axis": {"orient": "top", "values": [1460,2920,4380,5840,7300,8760], "labels": false, "title": null}},
       "y": {"field": "i", "type": "quantitative", "axis": {"orient": "right", "values": [-400,-200,0,200], "labels": false, "title": null}}}}
    ]}
  ]},
  {"spacing": 16, "hconcat": [
   {"width": 356, "height": 287,
    "resolve": {"axis": {"x": "independent", "y": "independent"}},
    "layer": [
     {"data": {"name": "ts"}, "mark": {"type": "line", "interpolate": "step", "color": "#0000ff", "strokeWidth": 2.4, "clip": true},
      "encoding": {
       "x": {"field": "h", "type": "quantitative", "scale": {"domain": [0, 8760], "nice": false, "zero": false}, "axis": {"values": [1460,2920,4380,5840,7300,8760], "labelExpr": "datum.value==1460?'Feb':datum.value==2920?'Apr':datum.value==4380?'Jun':datum.value==5840?'Aug':datum.value==7300?'Oct':'Dec'", "title": "(b)", "titleX": 154, "titleY": 49}},
       "y": {"field": "pt", "type": "quantitative", "scale": {"domain": [-60, 440], "nice": false, "zero": false}, "axis": {"values": [0,100,200,300,400], "labelExpr": "datum.value%200==0?datum.label:''", "title": "Loss (W)", "titleX": -52}}}},
     {"data": {"name": "ts"}, "mark": {"type": "line", "interpolate": "step", "color": "#ff0000", "strokeWidth": 2.4, "clip": true},
      "encoding": {"x": {"field": "h", "type": "quantitative", "axis": null}, "y": {"field": "pd", "type": "quantitative", "axis": null}}},
     {"data": {"name": "ann"}, "transform": [{"filter": "datum.p=='b'"}],
      "mark": {"type": "text", "align": "right", "baseline": "middle", "fontSize": 20, "fontWeight": "bold", "fontStyle": "italic"},
      "encoding": {"x": {"field": "x", "type": "quantitative", "axis": null}, "y": {"field": "y", "type": "quantitative", "axis": null}, "text": {"field": "t"},
       "color": {"field": "k", "type": "nominal", "legend": null, "scale": {"domain": ["Ucd","Ucq","Icd","Icq","PT","PD","TjT","TjD","IGBT","Diode"], "range": ["#1a1aff","#3a9a60","#1a1aff","#228b22","#1a1aff","#ff0000","#1a1aff","#ff0000","#0000ff","#ff0000"]}}}},
     {"data": {"name": "ann"}, "transform": [{"filter": "datum.p=='b'"}],
      "mark": {"type": "text", "align": "left", "baseline": "middle", "fontSize": 14, "fontWeight": "bold", "fontStyle": "italic", "dx": 1, "dy": 6},
      "encoding": {"x": {"field": "x", "type": "quantitative", "axis": null}, "y": {"field": "y", "type": "quantitative", "axis": null}, "text": {"field": "s"},
       "color": {"field": "k", "type": "nominal", "legend": null, "scale": {"domain": ["Ucd","Ucq","Icd","Icq","PT","PD","TjT","TjD","IGBT","Diode"], "range": ["#1a1aff","#3a9a60","#1a1aff","#228b22","#1a1aff","#ff0000","#1a1aff","#ff0000","#0000ff","#ff0000"]}}}},
     {"data": {"name": "ts"}, "mark": {"type": "point", "opacity": 0},
      "encoding": {
       "x": {"field": "h", "type": "quantitative", "axis": {"orient": "top", "values": [1460,2920,4380,5840,7300,8760], "labels": false, "title": null}},
       "y": {"field": "pt", "type": "quantitative", "axis": {"orient": "right", "values": [0,100,200,300,400], "labels": false, "title": null}}}}
    ]},
   {"width": 355, "height": 288,
    "resolve": {"axis": {"x": "independent", "y": "independent"}},
    "layer": [
     {"data": {"name": "ts"}, "mark": {"type": "line", "interpolate": "step", "color": "#0000ff", "strokeWidth": 2.4, "clip": true},
      "encoding": {
       "x": {"field": "h", "type": "quantitative", "scale": {"domain": [0, 8760], "nice": false, "zero": false}, "axis": {"values": [1460,2920,4380,5840,7300,8760], "labelExpr": "datum.value==1460?'Feb':datum.value==2920?'Apr':datum.value==4380?'Jun':datum.value==5840?'Aug':datum.value==7300?'Oct':'Dec'", "title": "(c)", "titleX": 77, "titleY": 48}},
       "y": {"field": "tt", "type": "quantitative", "scale": {"domain": [-19.3, 146.6], "nice": false, "zero": false}, "axis": {"values": [0,20,40,60,80,100,120,140], "labelExpr": "datum.value%40==0?datum.label:''", "title": "Junction temp. (°C)", "titleX": -50}}}},
     {"data": {"name": "ts"}, "mark": {"type": "line", "interpolate": "step", "color": "#ff0000", "strokeWidth": 2.4, "clip": true},
      "encoding": {"x": {"field": "h", "type": "quantitative", "axis": null}, "y": {"field": "td", "type": "quantitative", "axis": null}}},
     {"data": {"name": "ann"}, "transform": [{"filter": "datum.p=='c'"}],
      "mark": {"type": "text", "align": "right", "baseline": "middle", "fontSize": 20, "fontWeight": "bold", "fontStyle": "italic"},
      "encoding": {"x": {"field": "x", "type": "quantitative", "axis": null}, "y": {"field": "y", "type": "quantitative", "axis": null}, "text": {"field": "t"},
       "color": {"field": "k", "type": "nominal", "legend": null, "scale": {"domain": ["Ucd","Ucq","Icd","Icq","PT","PD","TjT","TjD","IGBT","Diode"], "range": ["#1a1aff","#3a9a60","#1a1aff","#228b22","#1a1aff","#ff0000","#1a1aff","#ff0000","#0000ff","#ff0000"]}}}},
     {"data": {"name": "ann"}, "transform": [{"filter": "datum.p=='c'"}],
      "mark": {"type": "text", "align": "left", "baseline": "middle", "fontSize": 14, "fontWeight": "bold", "fontStyle": "italic", "dx": 1, "dy": 6},
      "encoding": {"x": {"field": "x", "type": "quantitative", "axis": null}, "y": {"field": "y", "type": "quantitative", "axis": null}, "text": {"field": "s"},
       "color": {"field": "k", "type": "nominal", "legend": null, "scale": {"domain": ["Ucd","Ucq","Icd","Icq","PT","PD","TjT","TjD","IGBT","Diode"], "range": ["#1a1aff","#3a9a60","#1a1aff","#228b22","#1a1aff","#ff0000","#1a1aff","#ff0000","#0000ff","#ff0000"]}}}},
     {"data": {"name": "ts"}, "mark": {"type": "point", "opacity": 0},
      "encoding": {
       "x": {"field": "h", "type": "quantitative", "axis": {"orient": "top", "values": [1460,2920,4380,5840,7300,8760], "labels": false, "title": null}},
       "y": {"field": "tt", "type": "quantitative", "axis": {"orient": "right", "values": [0,20,40,60,80,100,120,140], "labels": false, "title": null}}}}
    ]}
  ]}
 ]},
 {"spacing": 57, "hconcat": [
  {"width": 87, "height": 10, "data": {"values": [{"a": 1}]}, "mark": {"type": "point", "opacity": 0}, "view": {"stroke": null}},
  {"spacing": 22, "vconcat": [
   {"spacing": 15, "vconcat": [
    {"width": 356, "height": 84, "view": {"stroke": null},
     "data": {"name": "cyc"}, "mark": {"type": "point", "filled": true, "size": 20, "color": "#ff0000", "opacity": 1, "clip": true},
     "encoding": {
      "x": {"field": "h", "type": "quantitative", "scale": {"domain": [0, 8760], "nice": false, "zero": false}, "axis": {"values": [1460,2920,4380,5840,7300,8760], "labels": false, "title": null, "domain": true, "domainColor": "#000"}},
      "y": {"field": "d", "type": "quantitative", "scale": {"domain": [-17, 147], "nice": false, "zero": false}, "axis": {"values": [0,100], "title": "dTⱼ (°C)", "titleX": -51, "domain": true, "domainColor": "#000"}}}},
    {"width": 356, "height": 85, "view": {"stroke": null},
     "data": {"name": "cyc"}, "mark": {"type": "point", "filled": true, "size": 20, "color": "#0000ff", "opacity": 1, "clip": true},
     "encoding": {
      "x": {"field": "h", "type": "quantitative", "scale": {"domain": [0, 8760], "nice": false, "zero": false}, "axis": {"values": [1460,2920,4380,5840,7300,8760], "labels": false, "title": null, "domain": true, "domainColor": "#000"}},
      "y": {"field": "m", "type": "quantitative", "scale": {"domain": [-16, 136], "nice": false, "zero": false}, "axis": {"values": [0,100], "title": "Tⱼₘ (°C)", "titleX": -52, "domain": true, "domainColor": "#000"}}}}
   ]},
   {"width": 356, "height": 86, "view": {"stroke": null},
    "data": {"name": "cyc"}, "mark": {"type": "point", "filled": true, "size": 20, "color": "#19ee19", "opacity": 1, "clip": true},
    "encoding": {
     "x": {"field": "h", "type": "quantitative", "scale": {"domain": [0, 8760], "nice": false, "zero": false}, "axis": {"values": [1460,2920,4380,5840,7300,8760], "labelExpr": "datum.value==1460?'Feb':datum.value==2920?'Apr':datum.value==4380?'Jun':datum.value==5840?'Aug':datum.value==7300?'Oct':'Dec'", "title": "(d)", "titleX": 151, "titleY": 44, "domain": true, "domainColor": "#000"}},
     "y": {"field": "c", "type": "quantitative", "scale": {"domain": [-26, 274], "nice": false, "zero": false}, "axis": {"values": [0,200], "title": "Tcycle (h)", "titleFontSize": 17, "titleX": -51, "domain": true, "domainColor": "#000"}}}}
  ]},
  {"width": 367, "height": 294,
   "resolve": {"axis": {"x": "independent", "y": "independent"}},
   "layer": [
    {"data": {"name": "dmg"}, "mark": {"type": "line", "strokeWidth": 1.2, "clip": true},
     "encoding": {
      "x": {"field": "h", "type": "quantitative", "scale": {"domain": [0, 8760], "nice": false, "zero": false}, "axis": {"values": [1460,2920,4380,5840,7300,8760], "labelExpr": "datum.value==1460?'Feb':datum.value==2920?'Apr':datum.value==4380?'Jun':datum.value==5840?'Aug':datum.value==7300?'Oct':'Dec'", "title": "(e)", "titleX": 150, "titleY": 46}},
      "y": {"field": "v", "type": "quantitative", "scale": {"domain": [0, 2.0276], "nice": false, "zero": false}, "axis": {"values": [0,0.2,0.4,0.6,0.8,1,1.2,1.4,1.6,1.8,2], "labelExpr": "datum.value==0?'0':datum.value==1?'1':datum.value==2?'2':''", "title": "Accumulated damage (%)", "titleX": -44}},
      "color": {"field": "k", "type": "nominal", "legend": null, "scale": {"domain": ["Ucd","Ucq","Icd","Icq","PT","PD","TjT","TjD","IGBT","Diode"], "range": ["#1a1aff","#3a9a60","#1a1aff","#228b22","#1a1aff","#ff0000","#1a1aff","#ff0000","#0000ff","#ff0000"]}}}},
    {"data": {"name": "ann"}, "transform": [{"filter": "datum.p=='e'"}],
     "mark": {"type": "text", "align": "center", "baseline": "middle", "fontSize": 21, "fontWeight": "bold", "fontStyle": "italic"},
     "encoding": {"x": {"field": "x", "type": "quantitative", "axis": null}, "y": {"field": "y", "type": "quantitative", "axis": null}, "text": {"field": "t"},
      "color": {"field": "k", "type": "nominal", "legend": null, "scale": {"domain": ["Ucd","Ucq","Icd","Icq","PT","PD","TjT","TjD","IGBT","Diode"], "range": ["#1a1aff","#3a9a60","#1a1aff","#228b22","#1a1aff","#ff0000","#1a1aff","#ff0000","#0000ff","#ff0000"]}}}},
    {"data": {"name": "dmg"}, "mark": {"type": "point", "opacity": 0},
     "encoding": {
      "x": {"field": "h", "type": "quantitative", "axis": {"orient": "top", "values": [1460,2920,4380,5840,7300,8760], "labels": false, "title": null}},
      "y": {"field": "v", "type": "quantitative", "axis": {"orient": "right", "values": [0,0.2,0.4,0.6,0.8,1,1.2,1.4,1.6,1.8,2], "labels": false, "title": null}}}}
   ]}
 ]}
]
}
